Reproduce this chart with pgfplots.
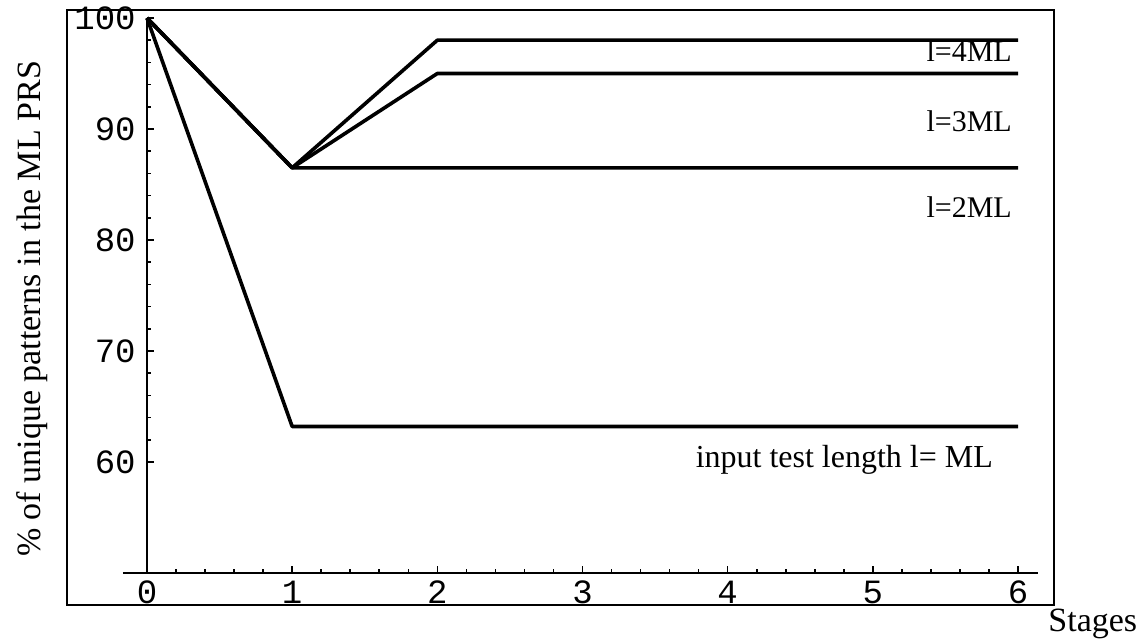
\documentclass[border=0pt]{standalone}
\usepackage{pgfplots}
\pgfplotsset{compat=1.18}
\usepackage{fontspec}
\setmainfont{Liberation Serif}
\setmonofont{Liberation Mono}

\tikzset{curve/.style={black, line width=1.8pt, mark=none, line join=round}}

\begin{document}
\begin{tikzpicture}
\useasboundingbox (-73.5pt,-34pt) rectangle (499pt,286.5pt);
\begin{axis}[
  scale only axis, width=435.5pt, height=277.5pt,
  xmin=0, xmax=6, ymin=50, ymax=100,
  axis x line=bottom, axis y line=left,
  axis line style={-, line width=0.9pt},
  x axis line style={shorten <=-12pt, shorten >=-10pt},
  xtick={0,...,6}, ytick={60,70,80,90,100},
  minor x tick num=4, minor y tick num=4,
  tick align=inside,
  major tick length=3.5pt, minor tick length=2pt,
  tick style={line width=0.8pt, black},
  ticklabel style={font=\fontsize{17}{17}\selectfont\ttfamily},
  /pgf/number format/assume math mode=true,
  xticklabel style={anchor=base, yshift=-15.5pt, inner sep=0pt},
  yticklabel style={anchor=east, inner sep=0pt, xshift=-5.5pt},
  clip=false,
]
% input test length l = ML
\addplot[curve] coordinates {(0,100) (1,63.2) (2,63.2) (3,63.2) (4,63.2) (5,63.2) (6,63.2)};
% l = 2ML
\addplot[curve] coordinates {(0,100) (1,86.5) (2,86.5) (3,86.5) (4,86.5) (5,86.5) (6,86.5)};
% l = 3ML
\addplot[curve] coordinates {(0,100) (1,86.5) (2,95.0) (3,95.0) (4,95.0) (5,95.0) (6,95.0)};
% l = 4ML
\addplot[curve] coordinates {(0,100) (1,86.5) (2,98.0) (3,98.0) (4,98.0) (5,98.0) (6,98.0)};

\begin{scope}[every node/.style={font=\fontsize{15}{15}\selectfont, inner sep=0pt, anchor=base east}]
\node at (axis cs:5.96,96.1) {l=4ML};
\node at (axis cs:5.96,89.8) {l=3ML};
\node at (axis cs:5.96,82.0) {l=2ML};
\node[font=\fontsize{16}{16}\selectfont] at (axis cs:5.83,59.5) {input test length l= ML};
\end{scope}
\end{axis}
% outer frame around the plot
\draw[line width=1.1pt] (-40pt,-16pt) rectangle (453.5pt,281.5pt);
\node[rotate=90, font=\fontsize{17}{17}\selectfont, inner sep=0pt] at (-57.5pt,132pt) {\% of unique patterns in the ML PRS};
\node[anchor=base west, font=\fontsize{17}{17}\selectfont, inner sep=0pt] at (450.5pt,-29.5pt) {Stages};
\end{tikzpicture}
\end{document}
